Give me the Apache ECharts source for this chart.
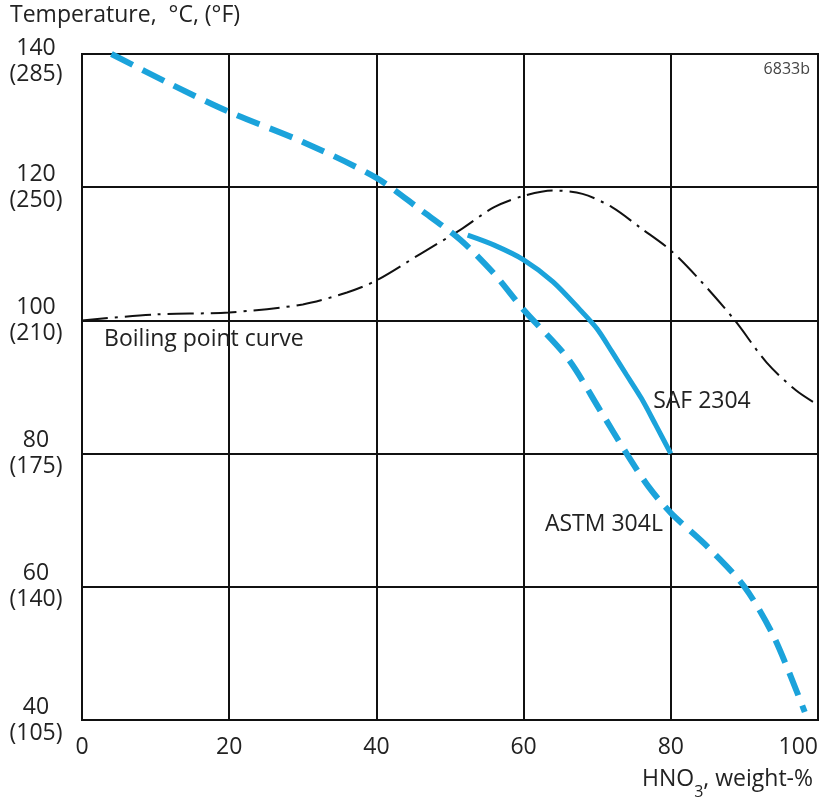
<!DOCTYPE html>
<html><head><meta charset="utf-8">
<script src="https://cdn.jsdelivr.net/npm/echarts@6/dist/echarts.min.js"></script>
<style>html,body{margin:0;padding:0;background:#fff}#c{width:827px;height:807px}</style>
</head><body><div id="c"></div>
<script>
const xTicks = [0, 20, 40, 60, 80, 100];
const yTicksC = [40, 60, 80, 100, 120, 140];
const yTicksF = ['(105)', '(140)', '(175)', '(210)', '(250)', '(285)'];

const astm304L = [[4,140],[12,135.5],[20,131.3],[30,126.8],[40,121.4],[46,116.6],[51.4,112.1],[56,107],[60,101.6],[66,94.3],[70.4,86.5],[74,80],[77,75],[80,71.1],[85,66],[90,60],[94,52.5],[98.2,41.2]];
const saf2304 = [[52.4,112.8],[56,111.3],[60,109.1],[64,105.8],[68,101.2],[70,98.7],[72,95.3],[74,91.8],[76,88.3],[78,84.2],[80,80]];
const boiling = [[0,100],[10,100.9],[20,101.2],[30,102.4],[36,104.2],[40,106],[46,110],[51.4,113.6],[56,117],[60,118.7],[64,119.5],[68,119],[72,117],[76,113.8],[80,110.5],[84,106],[88.7,100],[93,93.7],[97,89.5],[100,87.3]];

const labels = [
  {text:'Boiling point curve', x:3.0, y:97.1},
  {text:'SAF 2304', x:77.6, y:87.8},
  {text:'ASTM 304L', x:62.9, y:69.4}
];

const FONT = '"Open Sans", sans-serif';
const FS = 23;
const blue = '#1ba3db';
const ink = '#222';
const chart = echarts.init(document.getElementById('c'));
chart.setOption({
  animation:false,
  grid:{left:82,right:9,top:54,bottom:87,containLabel:false,outerBoundsMode:'none',
    show:true,borderColor:'#111',borderWidth:2,backgroundColor:'transparent'},
  xAxis:{type:'value',min:0,max:100,interval:20,
    axisLine:{lineStyle:{color:'#111',width:2}},axisTick:{show:false},
    splitLine:{lineStyle:{color:'#111',width:2}},
    axisLabel:{color:ink,fontSize:FS,fontFamily:FONT,margin:16,alignMaxLabel:'right',
      formatter:v=>xTicks.includes(v)?String(v):''}},
  yAxis:{type:'value',min:40,max:140,interval:20,
    axisLine:{lineStyle:{color:'#111',width:2}},axisTick:{show:false},
    splitLine:{lineStyle:{color:'#111',width:2}},
    axisLabel:{color:ink,fontSize:FS,fontFamily:FONT,margin:46,align:'center',lineHeight:26,
      rich:{top:{fontSize:FS,fontFamily:FONT,color:ink,lineHeight:26,padding:[14,0,0,0]}},
      formatter:v=>{const i=yTicksC.indexOf(v);if(i<0)return '';
        return v===140?'{top|'+v+'\n'+yTicksF[i]+'}':v+'\n'+yTicksF[i];}}},
  series:[
    {type:'line',data:boiling,smooth:0.3,symbol:'none',z:3,
      lineStyle:{color:'#111',width:2,type:[26,7,3,7]}},
    {type:'line',data:astm304L,smooth:0.3,symbol:'none',z:4,
      lineStyle:{color:blue,width:6,type:[24,11]}},
    {type:'line',data:saf2304,smooth:0.3,symbol:'none',z:5,
      lineStyle:{color:blue,width:5}}
  ]
});
const graphics = [
  {type:'text',left:10,top:4,style:{text:'Temperature,  °C, (°F)',fontSize:FS,fontFamily:FONT,fill:ink}},
  {type:'text',right:17,top:61,style:{text:'6833b',fontSize:16,fontFamily:FONT,fill:'#444'}},
  {type:'text',right:14,top:768,style:{
    text:'{a|HNO}{s|3}{a|, weight-%}',fontFamily:FONT,fill:ink,
    rich:{a:{fontSize:FS,fontFamily:FONT,fill:ink,lineHeight:30,verticalAlign:'top'},
          s:{fontSize:16,fontFamily:FONT,fill:ink,padding:[16,0,0,0],lineHeight:30,verticalAlign:'top'}}}}
];
labels.forEach(l=>{
  const p = chart.convertToPixel({gridIndex:0},[l.x,l.y]);
  graphics.push({type:'text',x:p[0],y:p[1],style:{text:l.text,fontSize:FS,fontFamily:FONT,fill:ink,verticalAlign:'middle'}});
});
chart.setOption({graphic:graphics});
</script></body></html>
